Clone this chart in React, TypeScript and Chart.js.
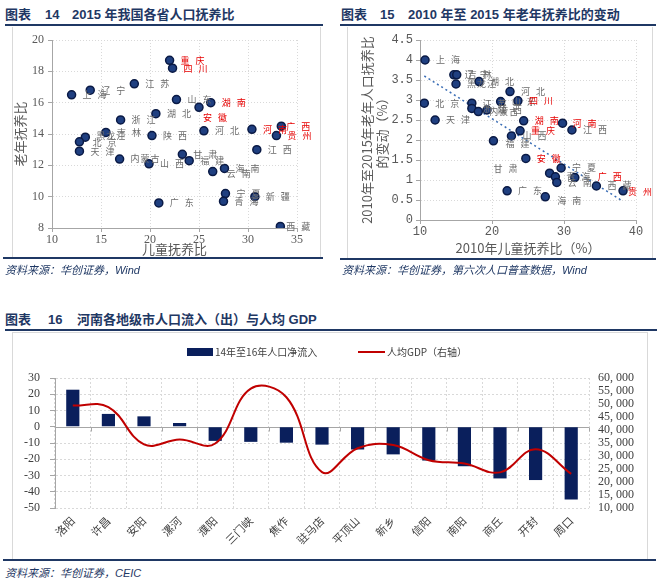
import React, { useEffect, useRef } from "react";
import { Chart, registerables } from "chart.js";

Chart.register(...registerables);

// ---------------- Chart 14: 2015 dependency ratios by province ----------------
const provinces2015 = ["重庆", "四川", "江苏", "辽宁", "上海", "山东", "湖南", "安徽", "湖北", "浙江", "河北", "河南", "广西", "贵州", "吉林", "黑龙江", "陕西", "北京", "天津", "江西", "内蒙古", "山西", "甘肃", "福建", "云南", "海南", "宁夏", "青海", "新疆", "广东", "西藏"];
const childRatio2015 = [22.0, 22.3, 18.4, 13.9, 12.0, 22.7, 26.2, 25.0, 20.6, 17.0, 25.5, 30.4, 33.4, 32.9, 15.5, 13.4, 20.2, 12.8, 12.8, 30.9, 16.9, 19.9, 23.3, 24.0, 26.4, 27.6, 27.7, 27.5, 30.7, 20.9, 33.3];
const elderRatio2015 = [18.7, 18.2, 17.2, 16.8, 16.5, 16.2, 16.0, 15.7, 15.3, 14.9, 14.2, 14.3, 14.5, 13.9, 14.1, 13.8, 13.9, 13.5, 12.9, 13.0, 12.4, 12.1, 12.7, 12.3, 11.6, 11.8, 10.2, 9.7, 10.0, 9.6, 8.1];
const highlight2015 = ["重庆", "四川", "湖南", "安徽", "河南", "广西", "贵州"];
const xRange14 = [10, 35, 5];
const yRange14 = [8, 20, 2];

// ---------------- Chart 15: 2010-2015 change in elderly ratio ----------------
const provinces2010 = ["上海", "辽宁", "吉林", "黑龙江", "湖北", "河北", "北京", "江苏", "山东", "四川", "浙江", "内蒙古", "陕西", "湖南", "河南", "江西", "重庆", "天津", "山西", "福建", "安徽", "宁夏", "甘肃", "青海", "云南", "广西", "西藏", "贵州", "广东", "海南"];
const childRatio2010 = [10.7, 14.7, 15.1, 15.0, 18.2, 22.5, 10.6, 17.2, 21.2, 23.6, 17.2, 18.1, 19.3, 24.4, 29.8, 31.1, 23.9, 12.1, 22.7, 20.2, 24.7, 29.6, 28.0, 28.8, 29.0, 31.5, 34.5, 38.2, 22.1, 27.4];
const elderChange = [4.0, 3.63, 3.63, 3.4, 3.46, 3.21, 2.92, 2.92, 2.96, 2.98, 2.79, 2.71, 2.75, 2.48, 2.42, 2.25, 2.23, 2.5, 2.1, 1.98, 1.54, 1.3, 1.17, 1.08, 0.94, 1.06, 0.85, 0.73, 0.73, 0.58];
const highlight2010 = ["四川", "湖南", "河南", "重庆", "安徽", "广西", "贵州"];
const trendX = [10.6, 37.9];
const trendY = [3.6, 0.5];
const xRange15 = [10, 40, 10];
const yRange15 = [0, 4.5, 0.5];

// ---------------- Chart 16: Henan cities ----------------
const cities = ["洛阳", "许昌", "安阳", "漯河", "濮阳", "三门峡", "焦作", "驻马店", "平顶山", "新乡", "信阳", "南阳", "商丘", "开封", "周口"];
const netInflow = [22.8, 7.9, 6.4, 2.3, -8.7, -9.3, -9.8, -11, -14, -17, -20.8, -24.3, -31.8, -32.8, -44.8];
const gdpPerCapita = [49400, 48800, 34500, 36300, 34800, 55900, 52600, 23800, 33000, 34200, 28400, 27100, 23700, 32600, 23100];
const barLabel = "14年至16年人口净流入";
const lineLabel = "人均GDP（右轴）";
const leftRange16 = [-50, 30, 10];
const rightRange16 = [10000, 60000, 5000];

// ---------------- styles ----------------
const NAVY = "#1f3864";
const BAR = "#0a1f5c";
const RED = "#c00000";
const serif = '"Liberation Serif", "Times New Roman", serif';
const mono = '"Liberation Mono", monospace';
const cjk = '"Noto Sans CJK SC", "Noto Sans", sans-serif';
const titleFont = `bold 13px "Liberation Sans", ${cjk}`;

// labels next to scatter points
const labelPlugin = {
  id: "pointLabels",
  afterDatasetsDraw(chart: any, _args: any, opts: any) {
    const { names, red, shifts } = opts;
    if (!names) return;
    const meta = chart.getDatasetMeta(0);
    const ctx = chart.ctx;
    ctx.save();
    ctx.font = `9px ${cjk}`;
    ctx.textBaseline = "middle";
    ctx.textAlign = "left";
    meta.data.forEach((el: any, i: number) => {
      const name = names[i];
      const sh = shifts[name] || [11, 0];
      ctx.fillStyle = red.includes(name) ? "#e60000" : "#6b6b6b";
      const chars = Array.from(name as string);
      const step = chars.length === 2 ? 15 : 10;
      chars.forEach((c, k) => ctx.fillText(c, el.x + sh[0] + k * step, el.y + sh[1]));
    });
    ctx.restore();
  },
};

const zeroLinePlugin = {
  id: "zeroLine",
  beforeDatasetsDraw(chart: any) {
    const ys = chart.scales.y;
    const ctx = chart.ctx;
    const y = Math.round(ys.getPixelForValue(0)) + 0.5;
    const { left, right } = chart.chartArea;
    ctx.save();
    ctx.strokeStyle = "#a6a6a6";
    ctx.lineWidth = 1;
    ctx.beginPath();
    ctx.moveTo(left, y);
    ctx.lineTo(right, y);
    const n = chart.data.labels.length;
    for (let i = 0; i <= n; i++) {
      const x = Math.round(left + ((right - left) * i) / n) + 0.5;
      ctx.moveTo(x, y);
      ctx.lineTo(x, y + 4);
    }
    ctx.stroke();
    ctx.restore();
  },
};

function ChartBox({ left, top, width, height, make }: any) {
  const ref = useRef<HTMLCanvasElement>(null);
  useEffect(() => {
    const chart = new Chart(ref.current as HTMLCanvasElement, make());
    return () => chart.destroy();
  }, []);
  return (
    <div style={{ position: "absolute", left, top, width, height }}>
      <canvas ref={ref} width={width} height={height} style={{ display: "block", width, height }} />
    </div>
  );
}

const pointStyle = {
  pointRadius: 4,
  pointBackgroundColor: "#1f3f80",
  pointBorderColor: "#0a1a45",
  pointBorderWidth: 1.5,
};

function make14(): any {
  return {
    type: "scatter",
    data: {
      datasets: [
        {
          data: provinces2015.map((_, i) => ({ x: childRatio2015[i], y: elderRatio2015[i] })),
          ...pointStyle,
        },
      ],
    },
    options: {
      responsive: false,
      animation: false,
      layout: { padding: { left: 0, right: 25, top: 13, bottom: 0 } },
      plugins: {
        legend: { display: false },
        tooltip: { enabled: false },
        pointLabels: {
          names: provinces2015,
          red: highlight2015,
          shifts: { 安徽: [4, 10], 广西: [5, 0], 西藏: [6, 0], 云南: [14, 2], 北京: [13, 1], 黑龙江: [11, -2] },
        },
      },
      scales: {
        x: {
          type: "linear",
          min: xRange14[0],
          max: xRange14[1],
          ticks: { stepSize: xRange14[2], autoSkip: false, font: { family: serif, size: 12 }, color: "#595959", padding: 1 },
          grid: { color: "#d9d9d9", tickColor: "#a6a6a6", tickLength: 4 },
          border: { display: true, color: "#a6a6a6", dash: [1, 2] },
          title: { display: true, text: "儿童抚养比", font: { family: cjk, size: 13 }, color: "#595959", padding: { top: 0, bottom: 1 } },
          afterFit: (s: any) => { s.height = 30; },
        },
        y: {
          min: yRange14[0],
          max: yRange14[1],
          ticks: { stepSize: yRange14[2], autoSkip: false, font: { family: serif, size: 12 }, color: "#595959", padding: 4 },
          grid: { color: "#d9d9d9", tickColor: "#a6a6a6", tickLength: 4 },
          border: { display: true, color: "#a6a6a6", dash: [1, 2] },
          title: { display: true, text: "老年抚养比", font: { family: cjk, size: 13 }, color: "#595959", padding: { top: 0, bottom: 0 } },
          afterFit: (s: any) => { s.width = 40; },
        },
      },
    },
    plugins: [labelPlugin],
  };
}

function make15(): any {
  return {
    type: "scatter",
    data: {
      datasets: [
        {
          data: provinces2010.map((_, i) => ({ x: childRatio2010[i], y: elderChange[i] })),
          ...pointStyle,
          order: 1,
        },
        {
          data: trendX.map((x, i) => ({ x, y: trendY[i] })),
          showLine: true,
          pointRadius: 0,
          borderColor: "#3a6db5",
          borderWidth: 1.5,
          borderDash: [2, 3],
          order: 2,
        },
      ],
    },
    options: {
      responsive: false,
      animation: false,
      layout: { padding: { left: 0, right: 17, top: 13, bottom: 0 } },
      plugins: {
        legend: { display: false },
        tooltip: { enabled: false },
        pointLabels: {
          names: provinces2010,
          red: highlight2010,
          shifts: { 甘肃: [-56, -5], 广西: [23, -1], 贵州: [5, 1], 海南: [12, 4], 福建: [12, 3], 河南: [10, 0] },
        },
      },
      scales: {
        x: {
          type: "linear",
          min: xRange15[0],
          max: xRange15[1],
          ticks: { stepSize: xRange15[2], autoSkip: false, font: { family: mono, size: 12 }, color: "#595959", padding: 1 },
          grid: { color: "#d9d9d9", tickColor: "#a6a6a6", tickLength: 4 },
          border: { display: true, color: "#a6a6a6", dash: [1, 2] },
          title: { display: true, text: "2010年儿童抚养比（%）", font: { family: cjk, size: 13 }, color: "#595959", padding: { top: 0, bottom: 3 } },
          afterFit: (s: any) => { s.height = 39; },
        },
        y: {
          min: yRange15[0],
          max: yRange15[1],
          ticks: {
            stepSize: yRange15[2],
            autoSkip: false,
            font: { family: mono, size: 12 },
            color: "#595959",
            padding: 3,
            callback: (v: any) => String(Math.round(Number(v) * 10) / 10),
          },
          grid: { color: "#d9d9d9", tickColor: "#a6a6a6", tickLength: 4 },
          border: { display: true, color: "#a6a6a6", dash: [1, 2] },
          title: {
            display: true,
            text: ["2010年至2015年老年人口抚养比", "的变动（%）"],
            font: { family: cjk, size: 13 },
            color: "#595959",
            padding: { top: 12, bottom: 0 },
          },
          afterFit: (s: any) => { s.width = 73; },
        },
      },
    },
    plugins: [labelPlugin],
  };
}

function fmtThousands(v: number) {
  const th = Math.floor(v / 1000);
  const rest = String(Math.round(v % 1000)).padStart(3, "0");
  return `${th}, ${rest}`;
}

function make16(): any {
  return {
    type: "bar",
    data: {
      labels: cities,
      datasets: [
        {
          type: "line",
          label: lineLabel,
          data: gdpPerCapita,
          yAxisID: "y1",
          borderColor: RED,
          borderWidth: 2,
          tension: 0.4,
          pointRadius: 0,
          fill: false,
          order: 1,
        },
        {
          type: "bar",
          label: barLabel,
          data: netInflow,
          yAxisID: "y",
          backgroundColor: BAR,
          barPercentage: 0.37,
          categoryPercentage: 1,
          order: 2,
        },
      ],
    },
    options: {
      responsive: false,
      animation: false,
      layout: { padding: { left: 0, right: 0, top: 46, bottom: 0 } },
      plugins: { legend: { display: false }, tooltip: { enabled: false } },
      scales: {
        x: {
          ticks: { font: { family: cjk, size: 11 }, color: "#404040", minRotation: 45, maxRotation: 45, autoSkip: false, padding: 6 },
          grid: { color: "#d9d9d9", offset: true, drawTicks: false },
          border: { display: false, dash: [2, 2] },
          afterFit: (s: any) => { s.height = 50; },
        },
        y: {
          position: "left",
          min: leftRange16[0],
          max: leftRange16[1],
          ticks: { stepSize: leftRange16[2], autoSkip: false, font: { family: serif, size: 12 }, color: "#404040", padding: 10 },
          grid: { color: (c: any) => (c.tick && c.tick.value === 0 ? "rgba(0,0,0,0)" : "#d9d9d9"), tickColor: "#a6a6a6", tickLength: 5 },
          border: { display: true, color: "#a6a6a6", dash: [2, 2] },
          afterFit: (s: any) => { s.width = 43; },
        },
        y1: {
          position: "right",
          min: rightRange16[0],
          max: rightRange16[1],
          ticks: {
            stepSize: rightRange16[2],
            autoSkip: false,
            font: { family: serif, size: 12 },
            color: "#404040",
            padding: 9,
            callback: (v: any) => fmtThousands(Number(v)),
          },
          grid: { drawOnChartArea: false, drawTicks: false },
          border: { display: false },
          afterFit: (s: any) => { s.width = 58; },
        },
      },
    },
    plugins: [zeroLinePlugin],
  };
}

const abs = (left: number, top: number, extra: any = {}) => ({ position: "absolute" as const, left, top, ...extra });

function Title({ x, y, parts }: { x: number[]; y: number; parts: string[] }) {
  return (
    <>
      {parts.map((p, i) => (
        <div key={i} style={abs(x[i], y, { font: titleFont, lineHeight: "16px", color: NAVY, whiteSpace: "nowrap" })}>
          {p}
        </div>
      ))}
    </>
  );
}

function Source({ x, y, text }: { x: number; y: number; text: string }) {
  return (
    <div style={abs(x, y, { font: `italic 11px "Liberation Sans", ${cjk}`, lineHeight: "14px", color: NAVY, whiteSpace: "nowrap" })}>{text}</div>
  );
}

export default function App() {
  return (
    <div style={{ position: "absolute", left: 0, top: 0, width: 661, height: 582, background: "#ffffff", overflow: "hidden" }}>
      {/* Chart 14 */}
      <Title x={[5, 45, 72]} y={7} parts={["图表", "14", "2015 年我国各省人口抚养比"]} />
      <div style={abs(5, 24, { width: 318, height: 2, background: NAVY })} />
      <ChartBox left={12} top={27} width={310} height={231} make={make14} />
      <div style={abs(12, 27, { width: 309, height: 231, borderLeft: "1px solid #d9d9d9", borderRight: "1px solid #d9d9d9", boxSizing: "border-box", pointerEvents: "none" })} />
      <div style={abs(3, 257, { width: 320, height: 2, background: NAVY })} />
      <Source x={5} y={263} text="资料来源：华创证券，Wind" />

      {/* Chart 15 */}
      <Title x={[341, 380, 408]} y={7} parts={["图表", "15", "2010 年至 2015 年老年抚养比的变动"]} />
      <div style={abs(340, 24, { width: 316, height: 2, background: NAVY })} />
      <ChartBox left={347} top={27} width={306} height={232} make={make15} />
      <div style={abs(347, 27, { width: 306, height: 232, borderLeft: "1px solid #d9d9d9", borderRight: "1px solid #d9d9d9", boxSizing: "border-box", pointerEvents: "none" })} />
      <div style={abs(340, 258, { width: 316, height: 2, background: NAVY })} />
      <Source x={342} y={263} text="资料来源：华创证券，第六次人口普查数据，Wind" />

      {/* Chart 16 */}
      <Title x={[5, 48, 77]} y={312} parts={["图表", "16", "河南各地级市人口流入（出）与人均 GDP"]} />
      <div style={abs(5, 329, { width: 652, height: 2, background: NAVY })} />
      <ChartBox left={12} top={332} width={635} height={226} make={make16} />
      <div style={abs(12, 332, { width: 636, height: 227, border: "1px solid #d9d9d9", borderBottom: "none", boxSizing: "border-box", pointerEvents: "none" })} />
      <div style={abs(187, 348, { width: 26, height: 8, background: BAR })} />
      <div style={abs(215, 345, { font: `10px ${cjk}`, lineHeight: "14px", color: "#404040", whiteSpace: "nowrap" })}>{barLabel}</div>
      <div style={abs(358, 351, { width: 27, height: 2, background: RED })} />
      <div style={abs(387, 345, { font: `10px ${cjk}`, lineHeight: "14px", color: "#404040", whiteSpace: "nowrap" })}>{lineLabel}</div>
      <div style={abs(3, 559, { width: 653, height: 2, background: NAVY })} />
      <Source x={5} y={566} text="资料来源：华创证券，CEIC" />
    </div>
  );
}
